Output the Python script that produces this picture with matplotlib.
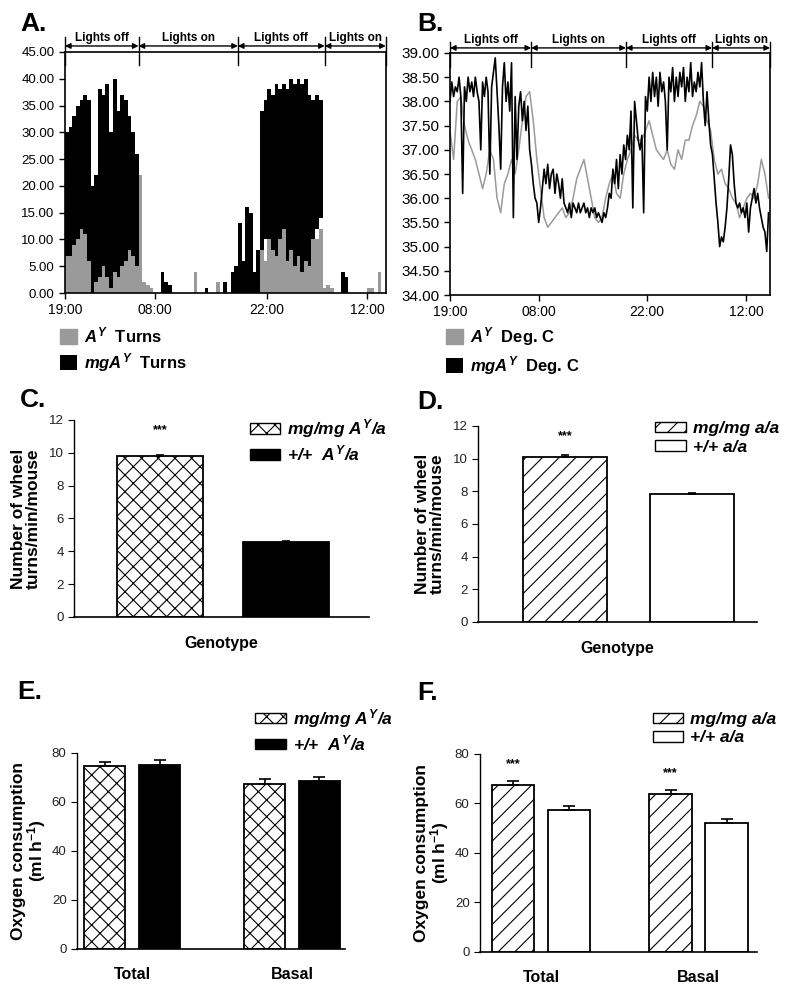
import numpy as np
import matplotlib
matplotlib.use('Agg')
import matplotlib.pyplot as plt
from matplotlib.patches import Patch

plt.rcParams['font.family'] = ['Liberation Sans', 'DejaVu Sans']
plt.rcParams['mathtext.fontset'] = 'custom'
plt.rcParams['mathtext.it'] = 'Liberation Sans:italic:bold'
plt.rcParams['mathtext.rm'] = 'Liberation Sans:bold'
plt.rcParams['mathtext.bf'] = 'Liberation Sans:bold'
plt.rcParams['hatch.linewidth'] = 0.8

GRAY = '#9a9a9a'

# ---- panel A / B : time axis (hours after 19:00) ----
clock_labels = ['19:00', '08:00', '22:00', '12:00']
clock_pos_a = [0, 12.2, 27.4, 41.1]
clock_pos_b = [0, 12.3, 27.2, 40.9]
light_labels = ['Lights off', 'Lights on', 'Lights off', 'Lights on']
light_edges_a = [0, 10.0, 23.5, 35.3, 43.6]
light_edges_b = [0, 11.2, 24.3, 36.2, 44.2]

# wheel turns, 0.5 h bins, 0 .. 43 h
turns_hours = np.arange(0, 43.5, 0.5)
mg_turns_hi = [30, 31, 33, 35, 36, 37, 36, 20, 22, 38, 37, 39, 30, 40, 34, 37, 36, 33, 30, 26,
               0, 0, 0, 0, 0, 0, 4, 2, 1.5, 0, 0, 0, 0, 0, 0, 0, 0, 0, 1, 0,
               0, 0, 0, 2, 0, 4, 5, 13, 6, 16, 15, 4, 8, 34, 36, 38, 37, 39, 38, 39,
               38, 40, 39, 40, 39, 40, 37, 36, 37, 36, 0, 0, 0, 0, 0, 4, 3, 0, 0, 0,
               0, 0, 0, 0, 0, 0, 0]
mg_turns_lo = [7, 7, 9, 10, 12, 11, 6, 0, 2, 3, 5, 3, 1, 4, 3, 5, 6, 8, 7, 5,
               0, 0, 0, 0, 0, 0, 0, 0, 0, 0, 0, 0, 0, 0, 0, 0, 0, 0, 0, 0,
               0, 0, 0, 0, 0, 0, 0, 0, 0, 0, 0, 0, 0, 8, 10, 10, 8, 7, 10, 12,
               6, 8, 5, 7, 4, 6, 5, 10, 12, 14, 0, 0, 0, 0, 0, 0, 0, 0, 0, 0,
               0, 0, 0, 0, 0, 0, 0]
ay_turns = [12, 18, 12, 12, 13, 14, 12, 10, 8, 10, 14, 8, 6, 5, 8, 17, 8, 10, 9, 8,
            22, 2, 1.5, 1, 0, 0, 0, 0, 0, 0, 0, 0, 0, 0, 0, 4, 0, 0, 0, 0,
            0, 2, 0, 0, 0, 0, 3, 5, 4, 5, 5, 3, 8, 10, 6, 12, 8, 7, 10, 14,
            8, 12, 10, 14, 12, 15, 13, 17, 10, 12, 1, 1.5, 1, 0, 0, 0, 0, 0, 0, 0,
            0, 0, 1, 1, 0, 4, 0]

# body temperature
temp_hours_gray = np.arange(0, 44.5, 0.5)
ay_temp = [37.4, 36.8, 38.0, 38.1, 37.5, 37.2, 37.0, 36.8, 36.5, 36.2, 36.5, 37.0, 36.8, 36.0, 35.7,
           36.3, 36.5, 36.8, 36.5, 37.0, 37.6, 38.1, 38.2, 37.6, 36.8, 36.2, 35.6, 35.4, 35.5, 35.6,
           35.7, 35.8, 35.6, 35.7, 36.0, 36.4, 36.6, 36.8, 36.4, 36.0, 35.6, 35.5, 35.6, 36.0, 36.3,
           36.5, 36.1, 36.0, 36.5, 36.8, 37.0, 37.3, 37.2, 37.2, 37.4, 37.6, 37.3, 37.0, 36.9, 36.8,
           37.0, 36.7, 36.6, 37.0, 36.8, 37.2, 37.2, 37.5, 37.7, 38.0, 37.9, 37.6, 37.4, 36.8, 36.5,
           36.6, 36.3, 36.2, 36.0, 35.9, 35.6, 35.8, 36.0, 36.1, 36.0, 36.3, 36.8, 36.5, 36.0]
temp_hours_black = np.arange(0, 44.25, 0.25)
mg_temp = [38.0, 38.4, 38.1, 38.3, 38.2, 38.5, 38.1, 36.1,
           38.3, 38.0, 38.5, 38.2, 38.4, 38.1, 38.5, 38.2,
           38.0, 37.0, 38.4, 38.1, 38.5, 38.2, 36.5, 38.3,
           38.6, 38.9, 38.2, 37.5, 36.6, 38.3, 38.8, 38.0,
           38.4, 37.8, 38.8, 35.6, 38.1, 36.8, 37.9, 38.2,
           37.6, 38.0, 37.4, 37.9, 37.0, 36.7, 36.3, 36.0,
           35.9, 35.5, 35.8, 36.2, 36.6, 36.3, 36.7, 36.2,
           36.5, 36.6, 36.1, 36.5, 36.3, 36.0, 36.4, 35.9,
           35.8, 35.7, 35.9, 35.6, 35.9, 35.8, 35.7, 35.9,
           35.7, 35.8, 35.9, 35.7, 35.8, 35.6, 35.8, 35.7,
           35.8, 35.6, 35.7, 35.6, 35.5, 35.7, 35.6, 35.8,
           36.1, 36.0, 36.6, 36.3, 36.8, 36.2, 36.9, 36.5,
           37.1, 36.8, 37.3, 37.0, 37.8, 35.8, 38.0, 37.6,
           37.2, 37.0, 37.3, 35.7, 38.1, 37.8, 38.5, 38.0,
           38.6, 38.1, 38.5, 37.9, 38.6, 38.2, 38.4, 38.0,
           37.0, 38.5, 38.2, 38.7, 38.0, 38.5, 38.1, 38.6,
           38.3, 38.7, 38.0, 38.5, 38.2, 38.8, 38.1, 38.4,
           38.2, 38.6, 38.3, 38.8, 38.0, 37.5, 38.2, 37.6,
           37.1, 36.9, 36.4, 35.9, 35.5, 35.0, 35.2, 35.1,
           35.4, 35.8, 36.4, 37.1, 36.9, 36.3, 35.9, 35.8,
           35.9, 35.7, 35.8, 35.6, 35.9, 35.3, 35.8, 36.0,
           36.2, 35.9, 36.1, 35.8, 35.6, 35.4, 35.3, 34.9,
           35.7]

# ---- panels C-F ----
genotypes_agouti = ['mg/mg $A^Y$/a', '+/+  $A^Y$/a']
genotypes_nonagouti = ['mg/mg a/a', '+/+ a/a']
wheel_c = [9.80, 4.58]
wheel_c_err = [0.06, 0.05]
wheel_d = [10.12, 7.83]
wheel_d_err = [0.12, 0.05]
oxy_groups = ['Total', 'Basal']
oxy_e_mg = [74.6, 67.5]
oxy_e_mg_err = [1.9, 1.7]
oxy_e_wt = [75.2, 68.4]
oxy_e_wt_err = [1.9, 1.6]
oxy_f_mg = [67.5, 63.8]
oxy_f_mg_err = [1.6, 1.5]
oxy_f_wt = [57.2, 52.2]
oxy_f_wt_err = [1.8, 1.5]


def lights_band(ax, edges, y_arrow, y_lo, y_hi, fs):
    """ Lights off / on arrows drawn above the plot frame """
    tr = ax.get_xaxis_transform()
    for x in edges:
        ax.plot([x, x], [y_lo, y_hi], color='black', lw=1.0, transform=tr, clip_on=False)
    for i, lab in enumerate(light_labels):
        x0, x1 = edges[i], edges[i + 1]
        ax.annotate('', xy=(x1, y_arrow), xytext=(x0, y_arrow), xycoords=tr, textcoords=tr,
                    arrowprops=dict(arrowstyle='<|-|>', color='black', lw=1.0,
                                    mutation_scale=8, shrinkA=0, shrinkB=0))
        ax.text((x0 + x1) / 2, y_arrow + 0.008, lab, transform=tr, ha='center', va='bottom',
                fontsize=fs, fontweight='bold')


def time_axes(ax, xmax, ticks, ylab_size):
    ax.set_xlim(0, xmax)
    ax.set_xticks(ticks)
    ax.set_xticklabels(clock_labels, fontsize=10)
    ax.tick_params(axis='y', labelsize=ylab_size, length=4, width=1, direction='out')
    ax.tick_params(axis='x', length=4, width=1, pad=3)
    for s in ax.spines.values():
        s.set_linewidth(1.2)


def panel_a(fig):
    ax = fig.add_axes([0.08125, 0.7064, 0.401, 0.2415])
    ax.bar(turns_hours, ay_turns, width=0.5, align='edge', color=GRAY, lw=0)
    hi = np.array(mg_turns_hi, dtype=float)
    lo = np.array(mg_turns_lo, dtype=float)
    ax.bar(turns_hours, hi - lo, bottom=lo, width=0.5, align='edge', color='black', lw=0)
    ax.set_ylim(0, 45)
    ax.set_yticks(np.arange(0, 46, 5))
    ax.set_yticklabels(['%.2f' % v for v in np.arange(0, 46, 5)])
    time_axes(ax, 43.6, clock_pos_a, 9.5)
    lights_band(ax, light_edges_a, 1.025, 0.946, 1.062, 8.5)
    handles = [Patch(facecolor=GRAY, edgecolor=GRAY), Patch(facecolor='black')]
    fig.legend(handles, ['$A^Y$  Turns', '$mgA^Y$  Turns'], loc='upper left',
               bbox_to_anchor=(0.075, 0.674), frameon=False, borderpad=0, borderaxespad=0,
               handlelength=1.0, handleheight=1.0, labelspacing=0.35, handletextpad=0.45,
               prop=dict(size=12, weight='bold'))


def panel_b(fig):
    ax = fig.add_axes([0.5625, 0.7044, 0.4, 0.2425])
    ax.plot(temp_hours_gray, ay_temp, color=GRAY, lw=1.1)
    ax.plot(temp_hours_black, mg_temp, color='black', lw=1.2)
    ax.set_ylim(34, 39)
    ax.set_yticks(np.arange(34, 39.01, 0.5))
    ax.set_yticklabels(['%.2f' % v for v in np.arange(34, 39.01, 0.5)])
    time_axes(ax, 44.2, clock_pos_b, 11)
    lights_band(ax, light_edges_b, 1.021, 0.942, 1.045, 8.5)
    handles = [Patch(facecolor=GRAY, edgecolor=GRAY), Patch(facecolor='black')]
    fig.legend(handles, ['$A^Y$  Deg. C', '$mgA^Y$  Deg. C'], loc='upper left',
               bbox_to_anchor=(0.5575, 0.674), frameon=False, borderpad=0, borderaxespad=0,
               handlelength=1.0, handleheight=1.0, labelspacing=0.35, handletextpad=0.45,
               prop=dict(size=12, weight='bold'))


def bar_axes(ax, ymax, step):
    ax.spines['top'].set_visible(False)
    ax.spines['right'].set_visible(False)
    ax.spines['left'].set_linewidth(1.0)
    ax.spines['bottom'].set_linewidth(1.2)
    ax.set_ylim(0, ymax)
    ax.set_yticks(np.arange(0, ymax + 1, step))
    ax.tick_params(axis='y', labelsize=9.5, length=4, width=0.8, labelcolor='#222222')


def bar_legend(fig, handles, labels, anchor):
    fig.legend(handles, labels, loc='upper left', bbox_to_anchor=anchor, frameon=False,
               borderpad=0, borderaxespad=0, handlelength=1.75, handleheight=0.55,
               labelspacing=0.2, handletextpad=0.4,
               prop=dict(size=12.5, weight='bold', style='italic'))


def wheel_panel(fig, rect, vals, errs, hatch, second_color, xlim, width, labels, anchor):
    ax = fig.add_axes(rect)
    x = np.arange(len(vals))
    ax.bar(x[0], vals[0], width=width, color='white', edgecolor='black', hatch=hatch, lw=1.3)
    ax.bar(x[1], vals[1], width=width, color=second_color, edgecolor='black', lw=1.3)
    ax.errorbar(x, vals, yerr=[[0, 0], errs], fmt='none', ecolor='black', elinewidth=1.2,
                capsize=3, capthick=1.2)
    ax.text(x[0], 11.0, '***', ha='center', va='bottom', fontsize=9, fontweight='bold')
    ax.set_xlim(*xlim)
    ax.set_xticks([])
    bar_axes(ax, 12, 2)
    ax.set_ylabel('Number of wheel\nturns/min/mouse', fontsize=12.5, fontweight='bold',
                  labelpad=6, linespacing=0.95)
    ax.set_xlabel('Genotype', fontsize=11.5, fontweight='bold', labelpad=14)
    handles = [Patch(facecolor='white', edgecolor='black', hatch=hatch),
               Patch(facecolor=second_color, edgecolor='black')]
    bar_legend(fig, handles, labels, anchor)
    return ax


def oxygen_panel(fig, rect, mg, mg_err, wt, wt_err, hatch, second_color, xlim, width, off,
                 labels, anchor, stars):
    ax = fig.add_axes(rect)
    x = np.arange(len(oxy_groups))
    ax.bar(x - off, mg, width=width, color='white', edgecolor='black', hatch=hatch, lw=1.3)
    ax.bar(x + off, wt, width=width, color=second_color, edgecolor='black', lw=1.3)
    ax.errorbar(x - off, mg, yerr=[[0, 0], mg_err], fmt='none', ecolor='black', elinewidth=1.2,
                capsize=4, capthick=1.2)
    ax.errorbar(x + off, wt, yerr=[[0, 0], wt_err], fmt='none', ecolor='black', elinewidth=1.2,
                capsize=4, capthick=1.2)
    for xi, yi in stars:
        ax.text(x[xi] - off, yi, '***', ha='center', va='bottom', fontsize=9, fontweight='bold')
    ax.set_xlim(*xlim)
    ax.set_xticks(x)
    ax.set_xticklabels(oxy_groups, fontsize=11.5, fontweight='bold')
    ax.tick_params(axis='x', length=0, pad=13)
    bar_axes(ax, 80, 20)
    ax.set_ylabel('Oxygen consumption\n(ml h$^{-1}$)', fontsize=12.5, fontweight='bold',
                  labelpad=3, linespacing=0.95)
    handles = [Patch(facecolor='white', edgecolor='black', hatch=hatch),
               Patch(facecolor=second_color, edgecolor='black')]
    bar_legend(fig, handles, labels, anchor)
    return ax


fig = plt.figure(figsize=(8, 9.98), dpi=100)
panel_a(fig)
panel_b(fig)

wheel_panel(fig, [0.0925, 0.3818, 0.369, 0.1974], wheel_c, wheel_c_err, 'xx', 'black',
            (-0.685, 1.665), 0.685, genotypes_agouti, (0.3125, 0.582))
wheel_panel(fig, [0.5975, 0.3768, 0.349, 0.1964], wheel_d, wheel_d_err, '//', 'white',
            (-0.685, 1.512), 0.66, genotypes_nonagouti, (0.819, 0.578))

oxygen_panel(fig, [0.09625, 0.0491, 0.335, 0.1964], oxy_e_mg, oxy_e_mg_err, oxy_e_wt,
             oxy_e_wt_err, 'xx', 'black', (-0.346, 1.332), 0.257, 0.171,
             genotypes_agouti, (0.319, 0.2916), [])
oxygen_panel(fig, [0.6, 0.0461, 0.346, 0.1984], oxy_f_mg, oxy_f_mg_err, oxy_f_wt,
             oxy_f_wt_err, '//', 'white', (-0.389, 1.37), 0.27, 0.178,
             genotypes_nonagouti, (0.816, 0.2866), [(0, 73.5), (1, 70.0)])

for lab, x, y in [('A.', 0.025, 0.988), ('B.', 0.521, 0.988), ('C.', 0.025, 0.611),
                  ('D.', 0.521, 0.609), ('E.', 0.021, 0.319), ('F.', 0.521, 0.318)]:
    fig.text(x, y, lab, fontsize=19, fontweight='bold', va='top', ha='left')

fig.savefig('out.png', dpi=100)
